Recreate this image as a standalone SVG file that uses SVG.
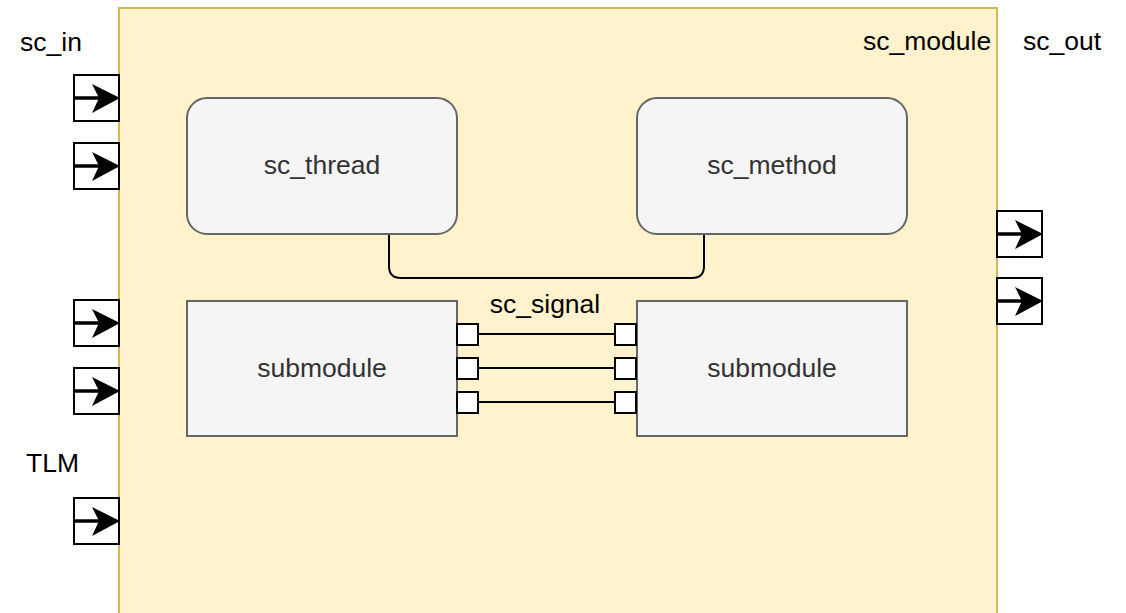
<svg xmlns="http://www.w3.org/2000/svg" width="1126" height="613" viewBox="0 0 1126 613">
<defs>
<style>
.lbl{font-family:"Liberation Sans",Arial,Helvetica,sans-serif;font-size:26.5px;fill:#000;}
.ntx{font-family:"Liberation Sans",Arial,Helvetica,sans-serif;font-size:26.5px;fill:#333;text-anchor:middle;}
.node{fill:#f5f5f5;stroke:#666;stroke-width:2;}
.port{fill:#fff;stroke:#000;stroke-width:2;}
.pl{stroke:#000;stroke-width:3.5;fill:none;}
.ah{fill:#000;stroke:none;}
.sq{fill:#fff;stroke:#000;stroke-width:2;}
.wire{stroke:#000;stroke-width:2;fill:none;}
</style>
<g id="portShape">
<rect class="port" x="0" y="0" width="45" height="46"/>
<line class="pl" x1="0" y1="23" x2="28" y2="23"/>
<path class="ah" d="M18,9 L46,23 L18,38 L25,23 Z"/>
</g>
</defs>
<rect width="1126" height="613" fill="#ffffff"/>

<g id="sc_module">
<rect x="119" y="8" width="878" height="620" fill="#fff2cc" stroke="#d6b656" stroke-width="2"/>
<text class="lbl" x="863" y="50">sc_module</text>
</g>

<g id="label_sc_in"><text class="lbl" x="20" y="51">sc_in</text></g>
<g id="label_sc_out"><text class="lbl" x="1023" y="50">sc_out</text></g>
<g id="label_TLM"><text class="lbl" x="26" y="472">TLM</text></g>

<g id="in_port_1"><use href="#portShape" x="74" y="75"/></g>
<g id="in_port_2"><use href="#portShape" x="74" y="143"/></g>
<g id="in_port_3"><use href="#portShape" x="74" y="300"/></g>
<g id="in_port_4"><use href="#portShape" x="74" y="368"/></g>
<g id="tlm_port"><use href="#portShape" x="74" y="498"/></g>
<g id="out_port_1"><use href="#portShape" x="997" y="211"/></g>
<g id="out_port_2"><use href="#portShape" x="997" y="278"/></g>

<g id="connectors">
<path class="wire" d="M389,234 V266 Q389,278 401,278 H692 Q704,278 704,266 V234"/>
<line class="wire" x1="478" y1="334" x2="615" y2="334"/>
<line class="wire" x1="478" y1="368" x2="615" y2="368"/>
<line class="wire" x1="478" y1="402" x2="615" y2="402"/>
</g>

<g id="sc_thread">
<rect class="node" x="187" y="98" width="270" height="136" rx="20" ry="20"/>
<text class="ntx" x="322" y="174">sc_thread</text>
</g>
<g id="sc_method">
<rect class="node" x="637" y="98" width="270" height="136" rx="20" ry="20"/>
<text class="ntx" x="772" y="174">sc_method</text>
</g>

<g id="submodule_left">
<rect class="node" x="187" y="301" width="270" height="135"/>
<text class="ntx" x="322" y="377">submodule</text>
</g>
<g id="submodule_right">
<rect class="node" x="637" y="301" width="270" height="135"/>
<text class="ntx" x="772" y="377">submodule</text>
</g>

<g id="sc_signal">
<text class="lbl" x="545" y="313" text-anchor="middle">sc_signal</text>
<rect class="sq" x="457" y="324" width="21" height="21"/>
<rect class="sq" x="457" y="358" width="21" height="21"/>
<rect class="sq" x="457" y="392" width="21" height="21"/>
<rect class="sq" x="615" y="324" width="21" height="21"/>
<rect class="sq" x="615" y="358" width="21" height="21"/>
<rect class="sq" x="615" y="392" width="21" height="21"/>
</g>
</svg>
